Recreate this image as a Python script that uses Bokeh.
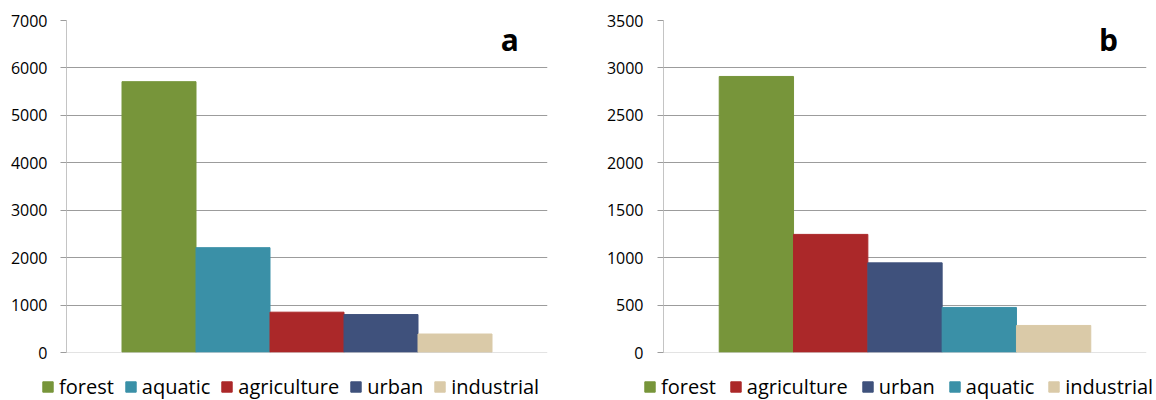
from bokeh.plotting import figure
from bokeh.models import (ColumnDataSource, FactorRange, Range1d, SingleIntervalTicker,
                          Label, Legend, LegendItem, Span)
from bokeh.layouts import row, column
from bokeh.embed import file_html
from bokeh.resources import INLINE

# ---- data ----
cats_a = ["forest", "aquatic", "agriculture", "urban", "industrial"]
vals_a = [5710, 2210, 850, 800, 390]
cats_b = ["forest", "agriculture", "urban", "aquatic", "industrial"]
vals_b = [2910, 1245, 945, 475, 285]
color_map = {
    "forest": "#77953A",
    "aquatic": "#3A90A7",
    "agriculture": "#AB2829",
    "urban": "#3F517C",
    "industrial": "#DACAA8",
}
ymax_a, step_a = 7000, 1000
ymax_b, step_b = 3500, 500

FONT = "Open Sans"


def make(cats, vals, ymax, step, panel_label, width, bl, br, standoff,
         label_x, label_y):
    src = ColumnDataSource(dict(cat=cats, val=vals,
                                color=[color_map[c] for c in cats]))
    p = figure(width=width, height=368,
               x_range=FactorRange(factors=cats, range_padding=0.75,
                                   range_padding_units="absolute"),
               y_range=Range1d(0, ymax),
               output_backend="svg", toolbar_location=None,
               min_border_left=bl, min_border_right=br,
               min_border_top=20, min_border_bottom=16)
    p.vbar(x="cat", top="val", width=1.0, fill_color="color",
           line_color="color", source=src)
    p.outline_line_color = None
    p.background_fill_color = "white"
    p.border_fill_color = "white"

    p.xaxis.visible = False
    p.xgrid.visible = False
    p.ygrid.grid_line_color = "#9C9C9C"
    p.ygrid.grid_line_width = 1

    ya = p.yaxis[0]
    ya.ticker = SingleIntervalTicker(interval=step)
    ya.axis_line_color = "#C4C4C4"
    ya.major_tick_line_color = "#9C9C9C"
    ya.major_tick_out = 6
    ya.major_tick_in = 0
    ya.minor_tick_line_color = None
    ya.major_label_text_font = FONT
    ya.major_label_text_font_size = "16px"
    ya.major_label_text_color = "#000000"
    ya.major_label_standoff = standoff

    p.add_layout(Span(location=0, dimension="width", line_color="#C8C8C8",
                      line_width=1))

    p.add_layout(Label(x=label_x, y=label_y, text=panel_label,
                       text_font=FONT, text_font_style="bold",
                       text_font_size="30px", text_align="center",
                       text_baseline="alphabetic", text_color="#000000"))
    return p


def make_legend(cats, vals, ymax, width, legend_x, spacing):
    src = ColumnDataSource(dict(cat=cats, val=vals,
                                color=[color_map[c] for c in cats]))
    # bars of this strip lie below its visible range; only the legend shows
    f = figure(width=width, height=32,
               x_range=FactorRange(factors=cats),
               y_range=Range1d(ymax * 10, ymax * 11),
               output_backend="svg", toolbar_location=None,
               x_axis_location=None, y_axis_location=None,
               min_border=0)
    f.outline_line_color = None
    f.xgrid.visible = False
    f.ygrid.visible = False
    r = f.vbar(x="cat", top="val", width=1.0, fill_color="color",
               line_color="color", source=src)
    items = [LegendItem(label=c, renderers=[r], index=i)
             for i, c in enumerate(cats)]
    leg = Legend(items=items, orientation="horizontal",
                 location=(legend_x, 0),
                 label_text_font=FONT, label_text_font_size="20px",
                 label_text_color="#000000",
                 glyph_width=13, glyph_height=13, label_standoff=5,
                 label_height=22, spacing=spacing, padding=0, margin=0,
                 border_line_color=None, background_fill_alpha=0)
    f.add_layout(leg, "center")
    return f


p1 = make(cats_a, vals_a, ymax_a, step_a, "a", 583, 66, 36, 13, 5.24, 6600)
p2 = make(cats_b, vals_b, ymax_b, step_b, "b", 573, 80, 10, 14, 5.24, 3300)
l1 = make_legend(cats_a, vals_a, ymax_a, 583, 41, 10)
l2 = make_legend(cats_b, vals_b, ymax_b, 573, 60, 13)

layout = column(row(p1, p2), row(l1, l2))
open("out.html", "w").write(file_html(layout, INLINE))
